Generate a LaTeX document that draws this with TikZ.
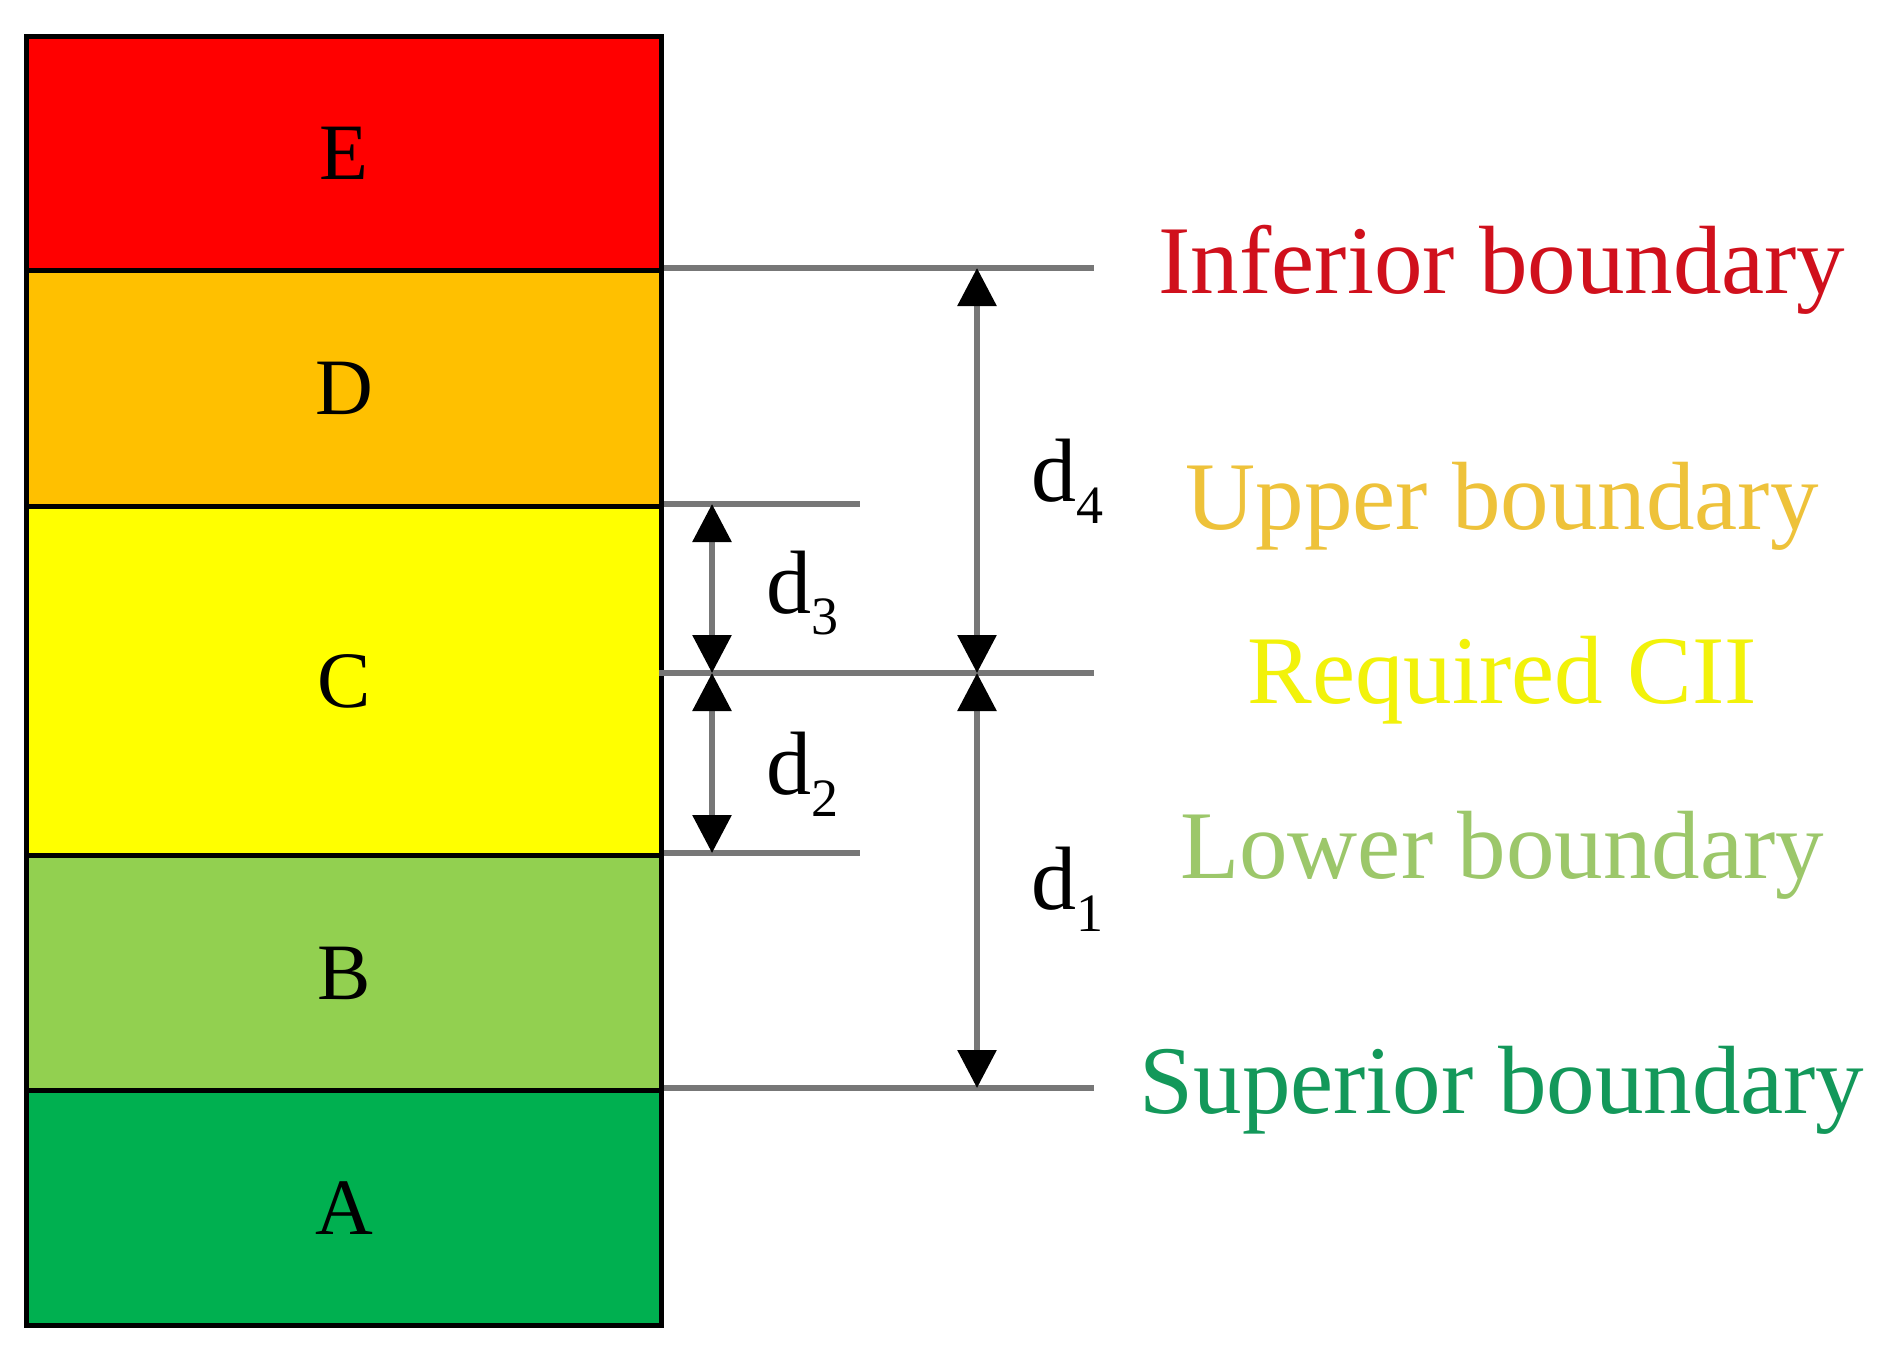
\documentclass[tikz,border=0pt]{standalone}
\usepackage{fontspec}
\setmainfont{Liberation Serif}
\usetikzlibrary{arrows.meta}
\definecolor{zE}{HTML}{FF0000}
\definecolor{zD}{HTML}{FFC000}
\definecolor{zC}{HTML}{FFFF00}
\definecolor{zB}{HTML}{92D050}
\definecolor{zA}{HTML}{00B050}
\definecolor{tInf}{HTML}{D0101C}
\definecolor{tUp}{HTML}{EEC23A}
\definecolor{tReq}{HTML}{F2F20A}
\definecolor{tLow}{HTML}{9CC76A}
\definecolor{tSup}{HTML}{13985A}
\definecolor{lgray}{HTML}{777777}
\tikzset{
  x=1pt,y=-1pt,
  zone/.style={draw=black,line width=5pt,anchor=north west,minimum width=635pt,inner sep=0pt,
    font=\fontsize{80}{80}\selectfont},
  bline/.style={draw=lgray,line width=6pt},
  dimarrow/.style={draw=lgray,line width=6pt,{Triangle[width=38pt,length=38pt,black]}-{Triangle[width=38pt,length=38pt,black]}},
  dlabel/.style={font=\fontsize{90}{90}\selectfont,inner sep=0pt},
  blabel/.style={font=\fontsize{97}{97}\selectfont,inner sep=0pt}
}
\newcommand{\dsub}[1]{d\raisebox{-0.24em}{\fontsize{54}{54}\selectfont #1}}
\begin{document}
\begin{tikzpicture}
\useasboundingbox[fill=white] (0,0) rectangle (1892,1345);
% zones
\node[zone,fill=zE,minimum height=234pt] (E) at (24,34) {E};
\node[zone,fill=zD,minimum height=236pt] (D) at (24,268) {D};
\node[zone,fill=zC,minimum height=349pt] (C) at (24,504) {C};
\node[zone,fill=zB,minimum height=235pt] (B) at (24,853) {B};
\node[zone,fill=zA,minimum height=235pt] (A) at (24,1088) {A};
% boundary line ends
\coordinate (reqStart) at (659,673);
\coordinate (infEnd) at (1094,268);
\coordinate (upEnd) at (860,504);
\coordinate (reqEnd) at (1094,673);
\coordinate (lowEnd) at (860,853);
\coordinate (supEnd) at (1094,1088);
\draw[bline] (D.north east) -- (infEnd);
\draw[bline] (C.north east) -- (upEnd);
\draw[bline] (reqStart) -- (reqEnd);
\draw[bline] (B.north east) -- (lowEnd);
\draw[bline] (A.north east) -- (supEnd);
% dimension arrows
\coordinate (d3t) at (712,504);
\coordinate (d3b) at (712,673);
\coordinate (d2b) at (712,853);
\coordinate (d4t) at (977,268);
\coordinate (d4b) at (977,673);
\coordinate (d1b) at (977,1088);
\draw[dimarrow] (d3t) -- (d3b);
\draw[dimarrow] (d3b) -- (d2b);
\draw[dimarrow] (d4t) -- (d4b);
\draw[dimarrow] (d4b) -- (d1b);
% dimension labels
\node[dlabel] (l4) at (1067,481) {\dsub{4}};
\node[dlabel] (l3) at (802,593) {\dsub{3}};
\node[dlabel] (l2) at (802,774) {\dsub{2}};
\node[dlabel] (l1) at (1067,889) {\dsub{1}};
% boundary labels
\node[blabel,text=tInf] (tinf) at (1502,270) {Inferior boundary};
\node[blabel,text=tUp] (tup) at (1502,506) {Upper boundary};
\node[blabel,text=tReq] (treq) at (1502,680) {Required CII};
\node[blabel,text=tLow] (tlow) at (1502,855) {Lower boundary};
\node[blabel,text=tSup] (tsup) at (1502,1090) {Superior boundary};
\end{tikzpicture}
\end{document}
